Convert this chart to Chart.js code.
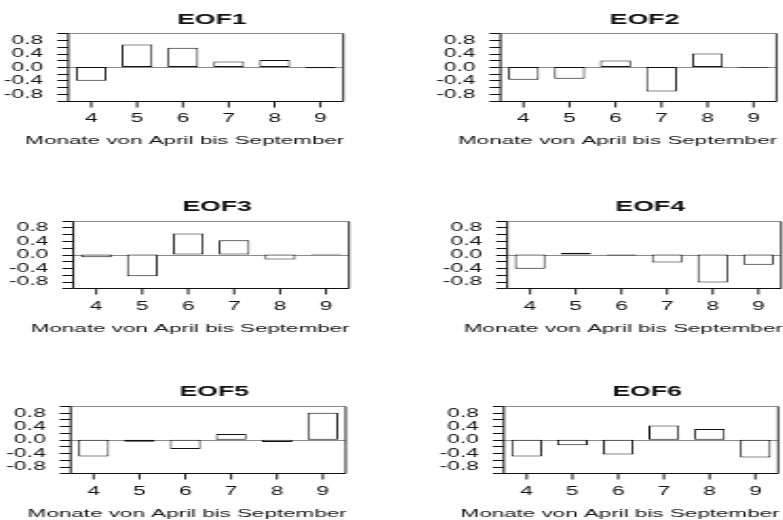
<!DOCTYPE html>
<html>
<head>
<meta charset="utf-8">
<script src="https://cdn.jsdelivr.net/npm/chart.js@4.4.1/dist/chart.umd.min.js"></script>
<style>
  html, body { margin: 0; padding: 0; background: #fff; }
  #page { position: relative; width: 783px; height: 520px; overflow: hidden; }
  .panel { position: absolute; transform-origin: 0 0; }
</style>
</head>
<body>
<div id="page"></div>
<script>
// Monthly loadings of the first six EOFs (April .. September)
const months = ['4', '5', '6', '7', '8', '9'];
const eof1 = [-0.41, 0.67, 0.57, 0.16, 0.21, -0.04];
const eof2 = [-0.38, -0.35, 0.19, -0.73, 0.40, -0.02];
const eof3 = [-0.08, -0.64, 0.62, 0.42, -0.15, 0.02];
const eof4 = [-0.42, 0.05, -0.03, -0.24, -0.83, -0.30];
const eof5 = [-0.50, -0.06, -0.28, 0.17, -0.07, 0.80];
const eof6 = [-0.50, -0.17, -0.44, 0.42, 0.32, -0.53];
const titles = ['EOF1', 'EOF2', 'EOF3', 'EOF4', 'EOF5', 'EOF6'];
const series = [eof1, eof2, eof3, eof4, eof5, eof6];
const yTickLabels = ['-0.8', '-0.4', '0.0', '0.4', '0.8'];
const yTickValues = [-0.8, -0.4, 0.0, 0.4, 0.8];
const xAxisTitle = 'Monate von April bis September';

// Layout: every panel is drawn narrow and widened horizontally by SX
const SX = 1.9;
const PW = 206, PH = 148;
const colX = [0, 391.5];
const rowY = [0, 186, 372];
// plot frame of each panel on the page: [left, right, top, bottom]
const frames = [
  [68.3, 343.3, 33.3, 100.7],
  [500.0, 776.0, 33.3, 100.7],
  [73.3, 349.0, 220.7, 288.3],
  [506.7, 780.7, 220.7, 288.3],
  [70.7, 345.7, 406.0, 473.3],
  [503.3, 777.7, 406.0, 473.3]
];

const FONT = '"Liberation Sans", Arial, Helvetica, sans-serif';
const INK = '#111';

const framePlugin = {
  id: 'frame',
  beforeDatasetsDraw(chart) {
    const { ctx, chartArea: a, scales: { y } } = chart;
    const z = Math.round(y.getPixelForValue(0)) + 0.5;
    ctx.save();
    ctx.strokeStyle = '#8a8a8a';
    ctx.lineWidth = 1;
    ctx.beginPath();
    ctx.moveTo(a.left, z);
    ctx.lineTo(a.right, z);
    ctx.stroke();
    ctx.restore();
  },
  afterDraw(chart, args, opts) {
    const { ctx, chartArea: a, scales: { x, y } } = chart;
    const top = Math.round(a.top) + 0.5;
    const bottom = Math.round(a.bottom) + 0.5;
    ctx.save();
    ctx.lineWidth = 1;
    // top edge of the frame
    ctx.strokeStyle = '#8a8a8a';
    ctx.beginPath();
    ctx.moveTo(a.left, top);
    ctx.lineTo(a.right, top);
    ctx.stroke();
    // right edge, left axis, bottom axis
    ctx.strokeStyle = '#222';
    ctx.beginPath();
    ctx.moveTo(a.right, top);
    ctx.lineTo(a.right, bottom);
    ctx.stroke();
    ctx.strokeStyle = INK;
    ctx.beginPath();
    ctx.moveTo(a.left, top);
    ctx.lineTo(a.left, bottom);
    ctx.lineTo(a.right, bottom);
    ctx.stroke();
    // y ticks every 0.2
    ctx.beginPath();
    for (let k = -5; k <= 5; k++) {
      const py = Math.round(y.getPixelForValue(k / 5)) + 0.5;
      ctx.moveTo(a.left - 11 / SX, py);
      ctx.lineTo(a.left, py);
    }
    // x ticks under each month
    months.forEach((m, i) => {
      const px = x.getPixelForValue(i);
      ctx.moveTo(px, bottom);
      ctx.lineTo(px, bottom + 6);
    });
    ctx.stroke();

    ctx.fillStyle = INK;
    ctx.textBaseline = 'middle';
    // y tick labels
    ctx.font = '12px ' + FONT;
    ctx.textAlign = 'right';
    yTickValues.forEach((v, i) => {
      ctx.fillText(yTickLabels[i], a.left - 25 / SX, y.getPixelForValue(v) + 0.5);
    });
    // x tick labels
    ctx.textAlign = 'center';
    months.forEach((m, i) => {
      ctx.fillText(m, x.getPixelForValue(i), a.bottom + 18);
    });
    // axis title
    const mid = (a.left + a.right) / 2;
    ctx.font = '11.8px ' + FONT;
    ctx.fillText(xAxisTitle, mid - 21 / SX, a.bottom + 40);
    // panel title
    ctx.font = 'bold 14px ' + FONT;
    ctx.fillText(opts.title, mid + 6 / SX, a.top - 13.5);
    ctx.restore();
  }
};

const page = document.getElementById('page');

series.forEach((values, idx) => {
  const col = idx % 2, row = Math.floor(idx / 2);
  const [L, R, T, B] = frames[idx];
  const ox = colX[col], oy = rowY[row];

  const holder = document.createElement('div');
  holder.className = 'panel';
  holder.style.left = ox + 'px';
  holder.style.top = oy + 'px';
  holder.style.width = PW + 'px';
  holder.style.height = PH + 'px';
  holder.style.transform = 'scaleX(' + SX + ')';
  const canvas = document.createElement('canvas');
  canvas.width = PW;
  canvas.height = PH;
  holder.appendChild(canvas);
  page.appendChild(holder);

  new Chart(canvas, {
    type: 'bar',
    data: {
      labels: months,
      datasets: [{
        data: values,
        backgroundColor: '#ffffff',
        borderColor: '#111111',
        borderWidth: 1,
        borderSkipped: false,
        barPercentage: 0.67,
        categoryPercentage: 1.0
      }]
    },
    options: {
      responsive: false,
      devicePixelRatio: 1,
      animation: false,
      events: [],
      layout: {
        padding: {
          left: (L - ox) / SX,
          right: PW - (R - ox) / SX,
          top: T - oy,
          bottom: oy + PH - B
        }
      },
      scales: {
        x: { type: 'category', display: false, offset: true },
        y: { type: 'linear', display: false, min: -1, max: 1 }
      },
      plugins: {
        legend: { display: false },
        tooltip: { enabled: false },
        title: { display: false },
        frame: { title: titles[idx] }
      }
    },
    plugins: [framePlugin]
  });
});
</script>
</body>
</html>
